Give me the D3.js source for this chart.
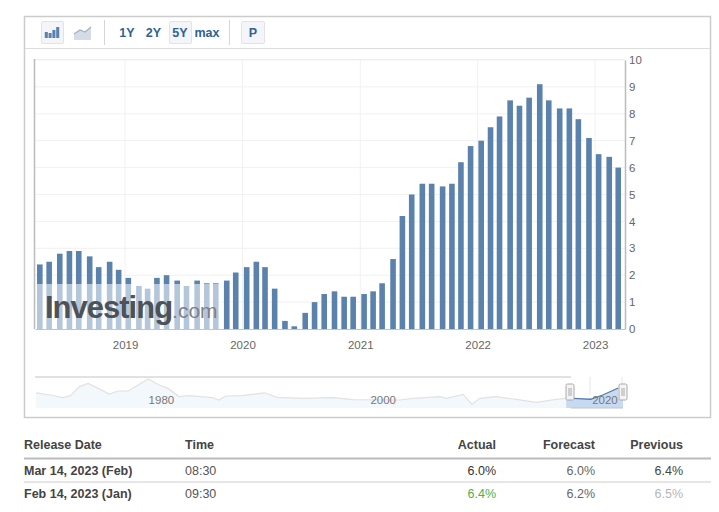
<!DOCTYPE html>
<html>
<head>
<meta charset="utf-8">
<style>
  html, body { margin: 0; padding: 0; background: #fff; }
  svg { display: block; font-family: "Liberation Sans", Arial, sans-serif; }
  .tick text { fill: #666; }
</style>
</head>
<body>
<script src="https://cdnjs.cloudflare.com/ajax/libs/d3/7.8.5/d3.min.js"></script>
<script>
// release date of each monthly print
var releaseDates = [
  "2018-04-11","2018-05-10","2018-06-12","2018-07-12","2018-08-10","2018-09-13","2018-10-11","2018-11-14","2018-12-12",
  "2019-01-11","2019-02-13","2019-03-12","2019-04-10","2019-05-10","2019-06-12","2019-07-11","2019-08-13","2019-09-12","2019-10-10","2019-11-13","2019-12-11",
  "2020-01-14","2020-02-13","2020-03-11","2020-04-10","2020-05-12","2020-06-10","2020-07-14","2020-08-12","2020-09-11","2020-10-13","2020-11-12","2020-12-10",
  "2021-01-13","2021-02-10","2021-03-10","2021-04-13","2021-05-12","2021-06-10","2021-07-13","2021-08-11","2021-09-14","2021-10-13","2021-11-10","2021-12-10",
  "2022-01-12","2022-02-10","2022-03-10","2022-04-12","2022-05-11","2022-06-10","2022-07-13","2022-08-10","2022-09-13","2022-10-13","2022-11-10","2022-12-13",
  "2023-01-12","2023-02-14","2023-03-14"
];
var values = [
  2.4,2.5,2.8,2.9,2.9,2.7,2.3,2.5,2.2,
  1.9,1.6,1.5,1.9,2.0,1.8,1.6,1.8,1.7,1.7,1.8,2.1,
  2.3,2.5,2.3,1.5,0.3,0.1,0.6,1.0,1.3,1.4,1.2,1.2,
  1.3,1.4,1.7,2.6,4.2,5.0,5.4,5.4,5.3,5.4,6.2,6.8,
  7.0,7.5,7.9,8.5,8.3,8.6,9.1,8.5,8.2,8.2,7.8,7.1,
  6.5,6.4,6.0
];
var yTicks = [0,1,2,3,4,5,6,7,8,9,10];
var xYears = [2019,2020,2021,2022,2023];

// overview strip at the bottom
var navYears = [1968.7,1970,1971.1,1971.8,1972.6,1973.4,1974.3,1975.3,1976.1,1977,1978.8,1979.8,1980.6,1981.6,1982.5,1984.6,1985.2,1985.8,1987.3,1989.3,1990.4,1992.8,1995.5,1997.3,2001.5,2002.7,2005.1,2005.7,2007.2,2008,2008.7,2010.2,2012,2013.8,2015.6,2016.5];
var navValues = [7.6,6.5,5.2,6.2,10.7,12.3,9.8,7,8.5,8.5,14.5,11.5,9.8,5.7,6.2,5.2,4,6,6.2,7.6,5.3,4.8,5.2,4.2,4,4.8,5.7,4.8,6.8,1.8,4.8,5.7,4.3,2.8,4.3,4.8];
var navSelYears = [2016.5,2017.2,2018.7,2019.8,2021.2];
var navSelValues = [4.8,4.8,4.3,6.5,10];
var navLabels = [1980,2000,2020];

var tableHeader = ["Release Date","Time","Actual","Forecast","Previous"];
var tableRows = [
  ["Mar 14, 2023 (Feb)","08:30","6.0%","6.0%","6.4%"],
  ["Feb 14, 2023 (Jan)","09:30","6.4%","6.2%","6.5%"]
];
var rangeButtons = ["1Y","2Y","5Y","max"];

// ==============================================================================

var width = 719, height = 512;

var svg = d3.select("body").append("svg")
    .attr("width", width)
    .attr("height", height);

var parseDate = d3.timeParse("%Y-%m-%d");
var data = releaseDates.map((d, i) => ({date: parseDate(d), value: values[i]}));

// panel + toolbar
svg.append("rect").attr("x", 24.5).attr("y", 16.5).attr("width", 686).attr("height", 401)
    .attr("fill", "#fff").attr("stroke", "#ccc").attr("stroke-width", 1.5);
svg.append("line").attr("x1", 25).attr("x2", 710).attr("y1", 48.5).attr("y2", 48.5).attr("stroke", "#ddd");

var btn = (x, w) => svg.append("rect").attr("x", x).attr("y", 21.5).attr("width", w).attr("height", 22).attr("rx", 1.5)
    .attr("fill", "#f3f5f8").attr("stroke", "#e0e3e8");
btn(41.5, 22); btn(169.5, 22); btn(241.5, 23);

// bar icon
var iconBars = d3.scaleBand().domain(d3.range(4)).range([44, 60]).padding(0.2);
[6, 5, 8, 11].forEach((h, i) => {
  svg.append("rect").attr("x", iconBars(i)).attr("y", 38 - h).attr("width", iconBars.bandwidth()).attr("height", h).attr("fill", "#5b82ac");
});
// line icon
svg.append("path").attr("d", "M74,34 L80,30 L85,32 L91,27 L91,40 L74,40 Z").attr("fill", "#d5dce6");
svg.append("path").attr("d", "M74,34 L80,30 L85,32 L91,27").attr("fill", "none").attr("stroke", "#9fb2c8").attr("stroke-width", 1.2);

[104.5, 229.5].forEach(x => {
  svg.append("line").attr("x1", x).attr("x2", x).attr("y1", 20).attr("y2", 45).attr("stroke", "#d5d5d5");
});

var btnX = [127, 153.5, 180, 207];
rangeButtons.forEach((t, i) => {
  svg.append("text").attr("x", btnX[i]).attr("y", 36.5).attr("text-anchor", "middle")
      .attr("font-size", 12.5).attr("font-weight", "bold").attr("fill", "#2f6295").text(t);
});
svg.append("text").attr("x", 253).attr("y", 36.5).attr("text-anchor", "middle")
    .attr("font-size", 12.5).attr("font-weight", "bold").attr("fill", "#2f6295").text("P");

// ==============================================================================
// main chart

var plot = {left: 35, right: 625, top: 59, bottom: 329};

var x = d3.scaleTime()
    .domain([new Date(2018, 2, 27), new Date(2023, 3, 4)])
    .range([plot.left, plot.right]);

var y = d3.scaleLinear()
    .domain([0, 10])
    .range([plot.bottom, plot.top + 1]);

// gridlines
svg.append("g").selectAll("line").data(yTicks.slice(1)).enter().append("line")
    .attr("x1", plot.left).attr("x2", plot.right)
    .attr("y1", d => y(d)).attr("y2", d => y(d))
    .attr("stroke", "#f1f1f1");
svg.append("g").selectAll("line").data(xYears).enter().append("line")
    .attr("x1", d => x(new Date(d, 0, 1))).attr("x2", d => x(new Date(d, 0, 1)))
    .attr("y1", plot.top).attr("y2", plot.bottom)
    .attr("stroke", "#f1f1f1");

svg.append("line").attr("x1", plot.left).attr("x2", plot.right).attr("y1", plot.top + .5).attr("y2", plot.top + .5).attr("stroke", "#eee");
svg.append("line").attr("x1", plot.left - .5).attr("x2", plot.left - .5).attr("y1", plot.top).attr("y2", plot.bottom).attr("stroke", "#bbb").attr("stroke-width", 1.5);

var barWidth = 5.6;
svg.append("g").selectAll("rect").data(data).enter().append("rect")
    .attr("x", d => x(d.date) - barWidth / 2)
    .attr("y", d => y(d.value))
    .attr("width", barWidth)
    .attr("height", d => y(0) - y(d.value))
    .attr("fill", "#5a82ac");

// watermark
svg.append("rect").attr("x", 36).attr("y", 284).attr("width", 186).attr("height", 45)
    .attr("fill", "#fff").attr("opacity", 0.55);
var wm = svg.append("text").attr("x", 45).attr("y", 318).attr("font-family", "'Liberation Sans', Arial, sans-serif");
wm.append("tspan").attr("font-size", 31).attr("font-weight", "bold").attr("fill", "#4d5158").attr("letter-spacing", -1).text("Investing");
wm.append("tspan").attr("font-size", 21).attr("fill", "#7e8288").text(".com");

var yAxis = d3.axisRight(y).tickValues(yTicks).tickSize(0).tickPadding(4);
var gy = svg.append("g").attr("transform", "translate(" + plot.right + ",0)").call(yAxis);
gy.selectAll("text").attr("font-size", 11.5);
gy.select(".domain").attr("stroke", "#bbb").attr("stroke-width", 1.5);

var xAxis = d3.axisBottom(x).tickValues(xYears.map(d => new Date(d, 0, 1))).tickFormat(d3.timeFormat("%Y")).tickSize(0).tickPadding(12);
var gx = svg.append("g").attr("transform", "translate(0," + plot.bottom + ")").call(xAxis);
gx.selectAll("text").attr("font-size", 11.5);
gx.select(".domain").attr("stroke", "#c4c4c4");

// ==============================================================================
// overview strip

var navX = d3.scaleLinear().domain([1968.6, 2021.2]).range([35, 618.3]);
var navY = d3.scaleLinear().domain([0, 15]).range([408, 378]);

var navArea = d3.area().x(d => navX(d[0])).y0(navY(0)).y1(d => navY(d[1]));
var navLine = d3.line().x(d => navX(d[0])).y(d => navY(d[1]));

var navData = navYears.map((d, i) => [d, navValues[i]]);
var navSel = navSelYears.map((d, i) => [d, navSelValues[i]]);

svg.append("line").attr("x1", 35).attr("x2", 571).attr("y1", 377).attr("y2", 377).attr("stroke", "#c4c4c4");
svg.append("path").datum(navData).attr("d", navArea).attr("fill", "#f3f8fc");
svg.append("path").datum(navData).attr("d", navLine).attr("fill", "none").attr("stroke", "#e2e2e2").attr("stroke-width", 1.2);

// selected range
svg.append("rect").attr("x", 571).attr("y", 398).attr("width", 52).attr("height", 10).attr("fill", "#c6dbf2");
svg.append("path").datum(navSel).attr("d", navArea).attr("fill", "#c6dbf2");
svg.append("path").datum(navSel).attr("d", navLine).attr("fill", "none").attr("stroke", "#4f7ba8").attr("stroke-width", 1.3);
svg.append("line").attr("x1", 571).attr("x2", 623).attr("y1", 408).attr("y2", 408).attr("stroke", "#c4c4c4");
[590, 622].forEach(px => {
  svg.append("line").attr("x1", px).attr("x2", px).attr("y1", 377).attr("y2", 395).attr("stroke", "#e6e6e6");
});

svg.append("g").selectAll("text").data(navLabels).enter().append("text")
    .attr("x", d => navX(d)).attr("y", 403.5).attr("text-anchor", "middle")
    .attr("font-size", 11.5).attr("fill", "#777").text(d => d);

[570, 623].forEach(px => {
  svg.append("rect").attr("x", px - 4).attr("y", 384).attr("width", 8).attr("height", 16).attr("rx", 1.5)
      .attr("fill", "#f4f4f4").attr("stroke", "#aaa");
  [-1, 1].forEach(o => svg.append("line").attr("x1", px + o).attr("x2", px + o).attr("y1", 388).attr("y2", 396).attr("stroke", "#aaa"));
});

// ==============================================================================
// table below the chart

var colX = [24, 185, 496, 595, 683];
var colAnchor = ["start", "start", "end", "end", "end"];

tableHeader.forEach((t, i) => {
  svg.append("text").attr("x", colX[i]).attr("y", 449).attr("text-anchor", colAnchor[i])
      .attr("font-size", 12.5).attr("font-weight", "bold").attr("fill", "#444").text(t);
});
svg.append("line").attr("x1", 24).attr("x2", 711).attr("y1", 458.5).attr("y2", 458.5).attr("stroke", "#bbb").attr("stroke-width", 2);
svg.append("line").attr("x1", 24).attr("x2", 711).attr("y1", 482).attr("y2", 482).attr("stroke", "#ccc");

var rowY = [475, 498];
var cellColor = [
  ["#444", "#555", "#333", "#666", "#444"],
  ["#444", "#555", "#4caf50", "#666", "#444"]
];
tableRows.forEach((row, r) => {
  row.forEach((t, i) => {
    svg.append("text").attr("x", colX[i]).attr("y", rowY[r]).attr("text-anchor", colAnchor[i])
        .attr("font-size", 12.5).attr("font-weight", i === 0 ? "bold" : "normal")
        .attr("fill", cellColor[r][i]).text(t);
  });
});

// white patch over the last cell
svg.append("rect").attr("x", 625).attr("y", 483).attr("width", 94).attr("height", 24)
    .attr("fill", "#fff").attr("opacity", 0.6);
</script>
</body>
</html>
